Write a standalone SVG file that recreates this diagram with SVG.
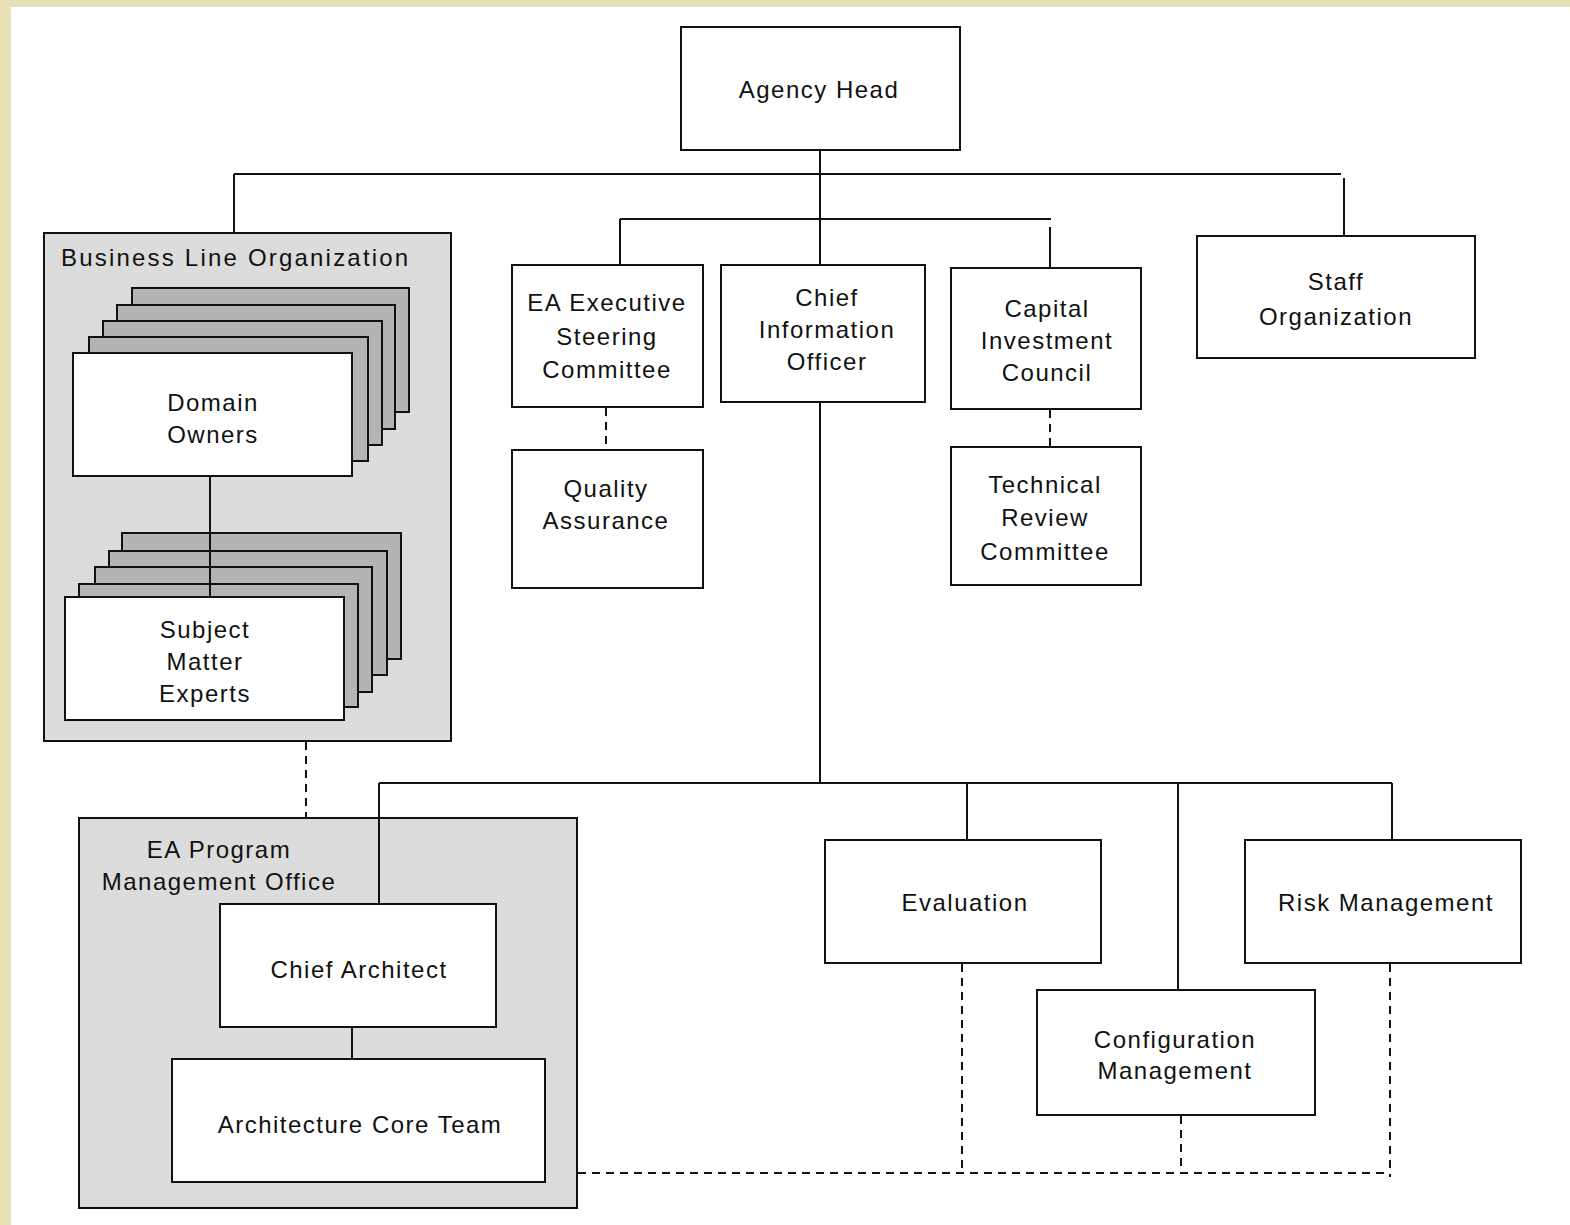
<svg xmlns="http://www.w3.org/2000/svg" width="1570" height="1225" viewBox="0 0 1570 1225">
<style>
.bx{fill:#fff;stroke:#111;stroke-width:2}
.grp{fill:#dcdcdc;stroke:#111;stroke-width:2}
.bk{fill:#b4b4b4;stroke:#111;stroke-width:2}
.ln{fill:none;stroke:#111;stroke-width:2}
.ds{fill:none;stroke:#111;stroke-width:2;stroke-dasharray:8 6}
text{font-family:"Liberation Sans",Arial,sans-serif;font-size:24px;fill:#111;letter-spacing:1.5px}
.c{text-anchor:middle}
</style>
<rect x="0" y="0" width="1570" height="1225" fill="#e9e1b6"/>
<rect x="11" y="7" width="1559" height="1218" fill="#fff"/>

<g id="business-line-org">
<rect class="grp" x="44" y="233" width="407" height="508"/>
<text x="61" y="266" style="letter-spacing:2.2px">Business Line Organization</text>
</g>
<g id="ea-pmo">
<rect class="grp" x="79" y="818" width="498" height="390"/>
<text class="c" x="219" y="858">EA Program</text>
<text class="c" x="219" y="890">Management Office</text>
</g>

<g id="connectors">
<path class="ln" d="M820 150V265M234 174H1341M234 174V233M1344 178V236M620 219H1051M620 219V265M1050 227V268"/>
<path class="ln" d="M820 402V783M379 783H1392M379 783V904M967 783V840M1178 783V990M1392 783V840"/>
<path class="ln" d="M352 1027V1059"/>
<path class="ds" d="M606 408V450M1050 410V447M306 742V818M962 964V1172M1181 1116V1172M1390 964V1177M578 1173H1390"/>
</g>

<g id="domain-owners">
<rect class="bk" x="132" y="288" width="277" height="124"/>
<rect class="bk" x="117" y="305" width="278" height="124"/>
<rect class="bk" x="103" y="321" width="279" height="124"/>
<rect class="bk" x="89" y="337" width="279" height="124"/>
<rect class="bx" x="73" y="353" width="279" height="123"/>
<text class="c" x="213" y="411">Domain</text>
<text class="c" x="213" y="443">Owners</text>
</g>

<g id="subject-matter-experts">
<rect class="bk" x="122" y="533" width="279" height="126"/>
<rect class="bk" x="109" y="551" width="278" height="124"/>
<rect class="bk" x="95" y="567" width="277" height="125"/>
<rect class="bk" x="79" y="584" width="279" height="123"/>
<path class="ln" d="M210 476V598"/>
<rect class="bx" x="65" y="597" width="279" height="123"/>
<text class="c" x="205" y="638">Subject</text>
<text class="c" x="205" y="670">Matter</text>
<text class="c" x="205" y="702">Experts</text>
</g>

<g id="agency-head">
<rect class="bx" x="681" y="27" width="279" height="123"/>
<text class="c" x="819" y="98">Agency Head</text>
</g>
<g id="staff-organization">
<rect class="bx" x="1197" y="236" width="278" height="122"/>
<text class="c" x="1336" y="290">Staff</text>
<text class="c" x="1336" y="325">Organization</text>
</g>
<g id="ea-executive-steering-committee">
<rect class="bx" x="512" y="265" width="191" height="142"/>
<text class="c" x="607" y="311">EA Executive</text>
<text class="c" x="607" y="345">Steering</text>
<text class="c" x="607" y="378">Committee</text>
</g>
<g id="quality-assurance">
<rect class="bx" x="512" y="450" width="191" height="138"/>
<text class="c" x="606" y="497">Quality</text>
<text class="c" x="606" y="529">Assurance</text>
</g>
<g id="chief-information-officer">
<rect class="bx" x="721" y="265" width="204" height="137"/>
<text class="c" x="827" y="306">Chief</text>
<text class="c" x="827" y="338">Information</text>
<text class="c" x="827" y="370">Officer</text>
</g>
<g id="capital-investment-council">
<rect class="bx" x="951" y="268" width="190" height="141"/>
<text class="c" x="1047" y="317">Capital</text>
<text class="c" x="1047" y="349">Investment</text>
<text class="c" x="1047" y="381">Council</text>
</g>
<g id="technical-review-committee">
<rect class="bx" x="951" y="447" width="190" height="138"/>
<text class="c" x="1045" y="493">Technical</text>
<text class="c" x="1045" y="526">Review</text>
<text class="c" x="1045" y="560">Committee</text>
</g>
<g id="chief-architect">
<rect class="bx" x="220" y="904" width="276" height="123"/>
<text class="c" x="359" y="978">Chief Architect</text>
</g>
<g id="architecture-core-team">
<rect class="bx" x="172" y="1059" width="373" height="123"/>
<text class="c" x="360" y="1133">Architecture Core Team</text>
</g>
<g id="evaluation">
<rect class="bx" x="825" y="840" width="276" height="123"/>
<text class="c" x="965" y="911">Evaluation</text>
</g>
<g id="risk-management">
<rect class="bx" x="1245" y="840" width="276" height="123"/>
<text class="c" x="1386" y="911">Risk Management</text>
</g>
<g id="configuration-management">
<rect class="bx" x="1037" y="990" width="278" height="125"/>
<text class="c" x="1175" y="1048">Configuration</text>
<text class="c" x="1175" y="1079">Management</text>
</g>
</svg>
